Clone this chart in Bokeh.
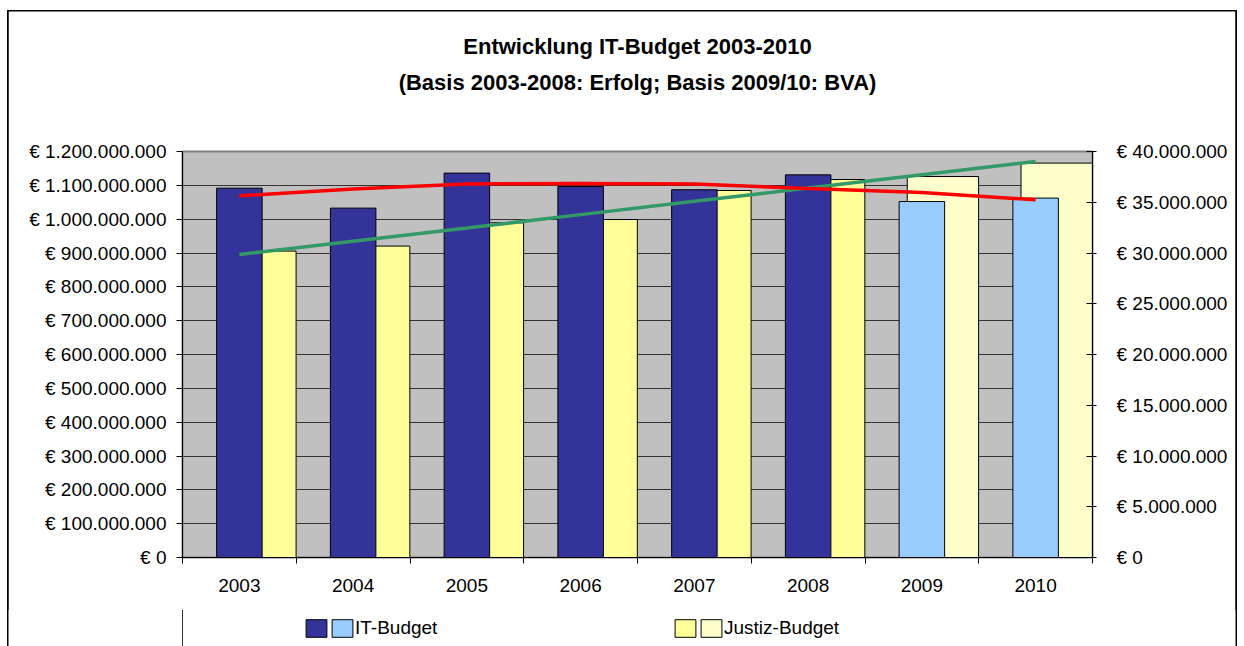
from bokeh.plotting import figure
from bokeh.models import (ColumnDataSource, Range1d, LinearAxis, FixedTicker,
                          Title, Legend, LegendItem)
from bokeh.layouts import column
from bokeh.transform import dodge
from bokeh.embed import file_html
from bokeh.resources import INLINE

# ---------------- data ----------------
years = ["2003", "2004", "2005", "2006", "2007", "2008", "2009", "2010"]
basis = ["Erfolg", "Erfolg", "Erfolg", "Erfolg", "Erfolg", "Erfolg", "BVA", "BVA"]
it_budget = [36.39e6, 34.42e6, 37.87e6, 36.55e6, 36.23e6, 37.70e6, 35.07e6, 35.41e6]
justiz_budget = [905.6e6, 920.4e6, 989.2e6, 999.0e6, 1084.7e6, 1117.2e6, 1126.0e6, 1165.7e6]
it_trend = [35.64e6, 36.30e6, 36.79e6, 36.85e6, 36.79e6, 36.35e6, 35.96e6, 35.24e6]
justiz_trend = [895.6e6, 934.9e6, 974.1e6, 1013.4e6, 1052.7e6, 1091.9e6, 1131.2e6, 1170.4e6]
left_ticks = [0, 100e6, 200e6, 300e6, 400e6, 500e6, 600e6, 700e6, 800e6, 900e6,
              1000e6, 1100e6, 1200e6]
right_ticks = [0, 5e6, 10e6, 15e6, 20e6, 25e6, 30e6, 35e6, 40e6]

it_colors = {"Erfolg": "#333399", "BVA": "#99CCFF"}
ju_colors = {"Erfolg": "#FFFF99", "BVA": "#FFFFCC"}

FONT = "Liberation Sans"
NBSP = "\u00a0"


def euro(v):
    return "€ " + f"{int(v):,}".replace(",", ".")


centers = [i + 0.5 for i in range(len(years))]
src = ColumnDataSource(dict(
    x=centers,
    year=years,
    it=it_budget,
    ju=justiz_budget,
    it_trend=it_trend,
    ju_trend=justiz_trend,
    it_color=[it_colors[b] for b in basis],
    ju_color=[ju_colors[b] for b in basis],
))

# ---------------- main figure ----------------
p = figure(width=1230, height=600, output_backend="svg", toolbar_location=None,
           x_range=Range1d(0, len(years)), y_range=Range1d(0, 1.2e9),
           min_border_left=175, min_border_right=145, min_border_top=141,
           min_border_bottom=53)
p.extra_y_ranges = {"it": Range1d(0, 40e6)}
p.background_fill_color = "#C0C0C0"
p.border_fill_color = None
p.outline_line_color = "#808080"
p.outline_line_width = 2
p.styles = {"box-shadow": "inset 1.5px 1.5px 0 0 #000000, inset -1.5px 0 0 0 #000000"}

# titles: first added panel sits closest to the frame, p.title is outermost
title_kw = dict(align="center", text_font=FONT, text_font_size="22px",
                text_font_style="bold", text_color="black", offset=-9)
p.title.text = "Entwicklung IT-Budget 2003-2010"
p.title.align = "center"
p.title.text_font = FONT
p.title.text_font_size = "22px"
p.title.text_font_style = "bold"
p.title.text_color = "black"
p.title.standoff = 18
p.title.offset = -9
gap_top = Title(text=NBSP, standoff=30, **title_kw)
p.add_layout(gap_top, "above")
t_sub = Title(text="(Basis 2003-2008: Erfolg; Basis 2009/10: BVA)", standoff=0, **title_kw)
p.add_layout(t_sub, "above")

# x axis
xa = p.xaxis[0]
xa.ticker = FixedTicker(ticks=centers, minor_ticks=list(range(len(years) + 1)))
xa.major_label_overrides = {c: y for c, y in zip(centers, years)}
xa.major_tick_in = 0
xa.major_tick_out = 0
xa.major_tick_line_color = None
xa.minor_tick_in = 0
xa.minor_tick_out = 6
xa.minor_tick_line_color = "black"
xa.axis_line_color = "black"
xa.major_label_standoff = 15
xa.major_label_text_font = FONT
xa.major_label_text_font_size = "19px"
xa.major_label_text_color = "black"

# left axis
ya = p.yaxis[0]
ya.ticker = FixedTicker(ticks=left_ticks)
ya.major_label_overrides = {t: euro(t) for t in left_ticks}
ya.major_tick_in = 0
ya.major_tick_out = 6
ya.minor_tick_line_color = None
ya.axis_line_color = "black"
ya.major_tick_line_color = "black"
ya.major_label_standoff = 10
ya.major_label_text_font = FONT
ya.major_label_text_font_size = "19px"
ya.major_label_text_color = "black"

# right axis
ra = LinearAxis(y_range_name="it", ticker=FixedTicker(ticks=right_ticks))
ra.major_label_overrides = {t: euro(t) for t in right_ticks}
ra.major_tick_in = 6
ra.major_tick_out = 4
ra.minor_tick_line_color = None
ra.axis_line_color = "black"
ra.major_tick_line_color = "black"
ra.major_label_standoff = 20
ra.major_label_text_font = FONT
ra.major_label_text_font_size = "19px"
ra.major_label_text_color = "black"
p.add_layout(ra, "right")

# grid
p.xgrid.visible = False
p.ygrid.ticker = FixedTicker(ticks=left_ticks)
p.ygrid.grid_line_color = "#333333"
p.ygrid.grid_line_width = 1

# bars
bar_kw = dict(line_color="black", line_width=1)
p.vbar(x=dodge("x", 0.185), top="ju", width=0.627, source=src,
       fill_color="ju_color", **bar_kw)
p.vbar(x="x", top="it", width=0.4, source=src, y_range_name="it",
       fill_color="it_color", **bar_kw)

# trend lines
p.line(x="x", y="ju_trend", source=src, line_color="#339966", line_width=3.5)
p.line(x="x", y="it_trend", source=src, y_range_name="it",
       line_color="#FF0000", line_width=3.5)

# ---------------- legend strip ----------------
lg = figure(width=1230, height=36, output_backend="svg", toolbar_location=None,
            x_axis_type=None, y_axis_type=None,
            x_range=Range1d(100, 101), y_range=Range1d(0, 1),
            min_border_left=175, min_border_right=145, min_border_top=0,
            min_border_bottom=0)
lg.grid.visible = False
lg.outline_line_color = None
lg.background_fill_color = None
lg.border_fill_color = None
it_r = lg.vbar(x="x", top="it", width=0.4, source=src, fill_color="it_color", **bar_kw)
ju_r = lg.vbar(x="x", top="ju", width=0.6, source=src, fill_color="ju_color", **bar_kw)

leg_kw = dict(orientation="horizontal", padding=0, margin=0, spacing=0,
              label_standoff=0, label_width=0, glyph_width=26, glyph_height=22,
              label_height=22, label_text_font=FONT, label_text_font_size="19px",
              label_text_color="black", background_fill_alpha=0,
              border_line_color=None)
leg1 = Legend(items=[LegendItem(label="", renderers=[it_r], index=0),
                     LegendItem(label="IT-Budget", renderers=[it_r], index=7)],
              location=(121, 7), **leg_kw)
leg2 = Legend(items=[LegendItem(label="", renderers=[ju_r], index=0),
                     LegendItem(label="Justiz-Budget", renderers=[ju_r], index=7)],
              location=(490, 7), **leg_kw)
lg.add_layout(leg1)
lg.add_layout(leg2)

layout = column(p, lg, spacing=0,
                styles={"margin-left": "7px", "margin-top": "10px",
                        "box-shadow": "inset 1.5px 0 0 0 #000000, inset -1.5px 0 0 0 #000000"})
open("out.html", "w").write(file_html(layout, INLINE))
